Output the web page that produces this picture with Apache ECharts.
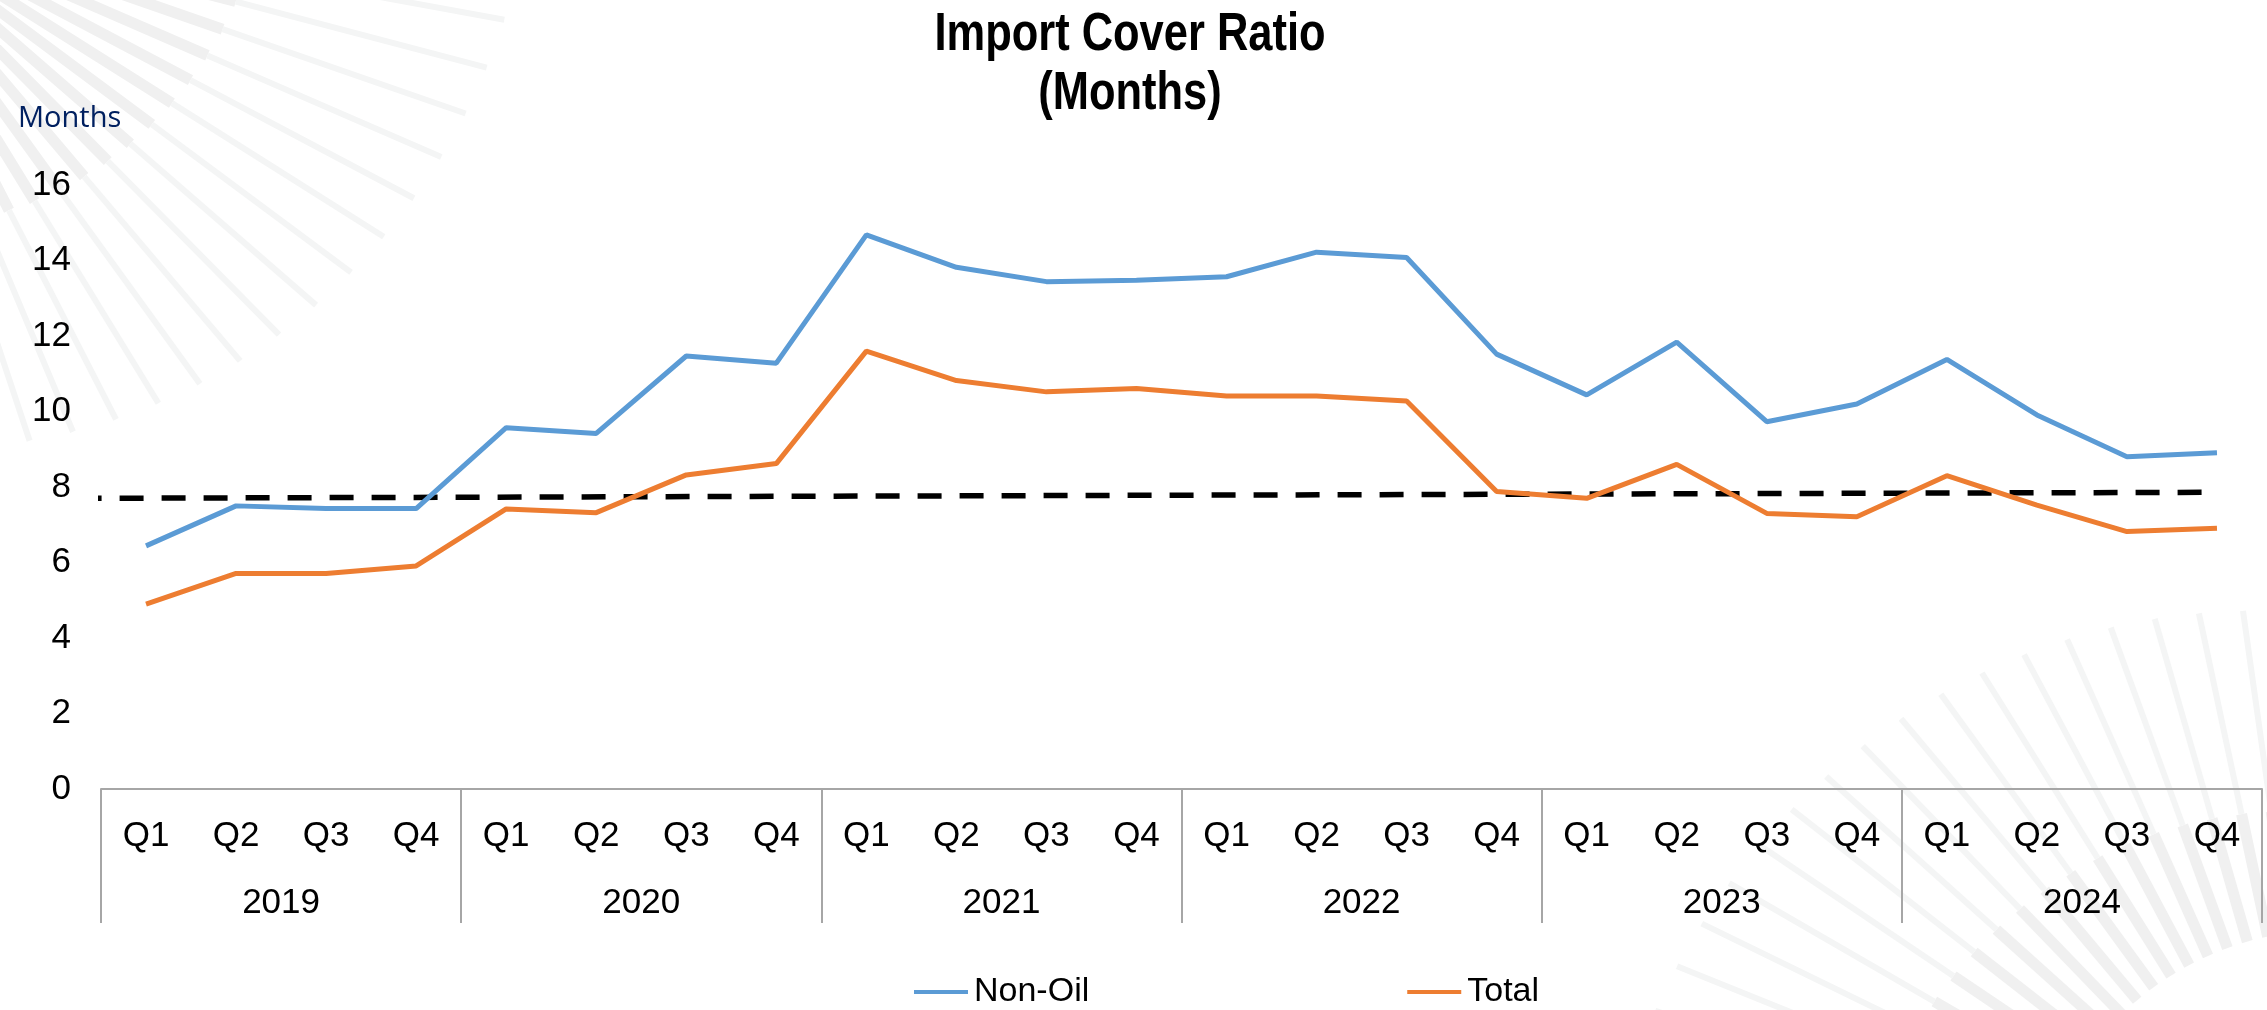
<!DOCTYPE html>
<html>
<head>
<meta charset="utf-8">
<script src="https://cdn.jsdelivr.net/npm/echarts@6/dist/echarts.min.js"></script>
<style>
html,body{margin:0;padding:0;background:#fff;}
#chart{width:2267px;height:1010px;}
</style>
</head>
<body>
<div id="chart"></div>
<script>
// ---- Data ----
var years = ['2019', '2020', '2021', '2022', '2023', '2024'];
var quarters = ['Q1', 'Q2', 'Q3', 'Q4'];
var nonOil = [6.44, 7.50, 7.43, 7.43, 9.57, 9.42, 11.47, 11.28, 14.68, 13.82, 13.44, 13.48,
              13.57, 14.22, 14.08, 11.52, 10.44, 11.84, 9.73, 10.20, 11.38, 9.91, 8.80, 8.91];
var total = [4.90, 5.71, 5.71, 5.91, 7.42, 7.32, 8.32, 8.62, 11.60, 10.82, 10.52, 10.61,
             10.41, 10.41, 10.28, 7.88, 7.70, 8.60, 7.30, 7.21, 8.30, 7.52, 6.82, 6.91];
var benchmarkX = [-0.26, 23.5];
var benchmarkY = [7.70, 7.86];
var yTicks = { min: 0, max: 16, interval: 2 };

// ---- Background decoration (faint sunburst rays) ----
function rays(cx, cy, a0, a1, n, rIn, rMid0, rMid1, rOut0, rOut1) {
  var out = [];
  for (var i = 0; i < n; i++) {
    var t = i / (n - 1);
    var a = (a0 + (a1 - a0) * t) * Math.PI / 180;
    var c = Math.cos(a), s = Math.sin(a);
    var rm = rMid0 + (rMid1 - rMid0) * t;
    var ro = rOut0 + (rOut1 - rOut0) * t;
    out.push({ type: 'line', z: -10, silent: true,
      shape: { x1: cx + c * rIn, y1: cy + s * rIn, x2: cx + c * rm, y2: cy + s * rm },
      style: { stroke: '#F0F0F0', lineWidth: 11 } });
    out.push({ type: 'line', z: -10, silent: true,
      shape: { x1: cx + c * rm, y1: cy + s * rm, x2: cx + c * ro, y2: cy + s * ro },
      style: { stroke: '#F4F5F5', lineWidth: 6 } });
  }
  return out;
}

// ---- Build ----
var quarterCats = [];
years.forEach(function (y) { quarters.forEach(function (q) { quarterCats.push(q); }); });
var benchmark = benchmarkX.map(function (x, i) { return [x, benchmarkY[i]]; });

var SANS = "'Liberation Sans', Arial, sans-serif";
var graphics = [].concat(
  rays(-150, -100, 6, 76, 17, 150, 408, 335, 672, 563),
  rays(2330, 1230, 190, 266, 20, 300, 470, 420, 720, 620),
  [{
    type: 'text', x: 1130, y: 9, scaleX: 0.82,
    style: { text: 'Import Cover Ratio', textAlign: 'center', textVerticalAlign: 'top',
             fontFamily: SANS, fontSize: 53, fontWeight: 'bold', fill: '#000' }
  }, {
    type: 'text', x: 1130, y: 68, scaleX: 0.82,
    style: { text: '(Months)', textAlign: 'center', textVerticalAlign: 'top',
             fontFamily: SANS, fontSize: 53, fontWeight: 'bold', fill: '#000' }
  }, {
    type: 'text', left: 18, top: 104,
    style: { text: 'Months', fontFamily: "'Open Sans', 'Noto Sans', sans-serif", fontSize: 29, fill: '#002060' }
  }]
);

var chart = echarts.init(document.getElementById('chart'), null, { renderer: 'canvas' });
chart.setOption({
  animation: false,
  backgroundColor: '#ffffff',
  graphic: graphics,
  legend: {
    data: ['Non-Oil', 'Total'],
    left: 914, top: 975, padding: 0,
    itemGap: 318, itemWidth: 54, itemHeight: 4, icon: 'rect',
    textStyle: { fontFamily: SANS, fontSize: 34, color: '#000', padding: [0, 0, 0, 1] }
  },
  grid: { left: 101, right: 5, top: 185, bottom: 221, containLabel: false },
  xAxis: [{
    type: 'category', data: quarterCats, position: 'bottom', boundaryGap: true,
    axisLine: { show: true, onZero: false, lineStyle: { color: '#A6A6A6', width: 2 } },
    axisTick: { show: false },
    axisLabel: { interval: 0, margin: 30, fontFamily: SANS, fontSize: 35, color: '#000' }
  }, {
    type: 'category', data: years, position: 'bottom', boundaryGap: true,
    axisLine: { show: false, onZero: false },
    axisTick: { show: true, interval: 0, length: 134, lineStyle: { color: '#A6A6A6', width: 2 } },
    axisLabel: { interval: 0, margin: 97, fontFamily: SANS, fontSize: 35, color: '#000' }
  }, {
    type: 'value', min: 0, max: 24, show: false
  }],
  yAxis: {
    type: 'value', min: yTicks.min, max: yTicks.max, interval: yTicks.interval,
    axisLine: { show: false, onZero: false },
    axisTick: { show: false },
    splitLine: { show: false },
    axisLabel: { margin: 30, fontFamily: SANS, fontSize: 35, color: '#000' }
  },
  series: [{
    name: 'Non-Oil', type: 'line', xAxisIndex: 0, data: nonOil,
    symbol: 'none', color: '#5B9BD5', lineStyle: { width: 5, color: '#5B9BD5' }
  }, {
    name: 'Total', type: 'line', xAxisIndex: 0, data: total,
    symbol: 'none', color: '#ED7D31', lineStyle: { width: 5, color: '#ED7D31' }
  }, {
    name: 'Benchmark', type: 'line', xAxisIndex: 2, data: benchmark, clip: false,
    symbol: 'none', color: '#000', lineStyle: { width: 5.5, color: '#000', type: [24, 18] },
    z: 1
  }]
});
</script>
</body>
</html>
